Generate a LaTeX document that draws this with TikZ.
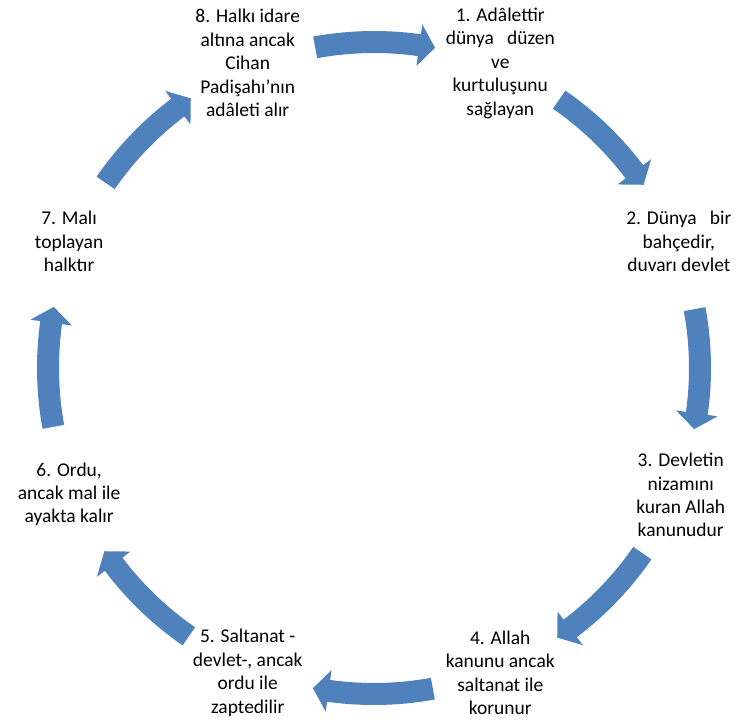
\documentclass[tikz,border=0pt]{standalone}
\usepackage{fontspec}
\setmainfont{Carlito}
\usepackage{tikz}
\usetikzlibrary{positioning}
\definecolor{arrowblue}{RGB}{79,129,189}
\newcommand{\CycleArrow}[1]{\fill[arrowblue] (#1+10.4:315) arc[start angle=#1+10.4, end angle=#1-8, radius=315]
  -- (#1-8:305) -- (#1-10.8:326) -- (#1-8:347) -- (#1-8:337)
  arc[start angle=#1-8, end angle=#1+10.4, radius=337] -- cycle;}

\begin{document}
\begin{tikzpicture}[x=0.75pt, y=0.75pt,
    step text/.style={align=center, inner sep=0pt, font=\fontsize{14.6}{17.6}\selectfont}]
    \useasboundingbox (-374,-354) rectangle (367,368);

    \node[step text] (s1) at (67.5:330) {1. Adâlettir\\dünya\ \ \ düzen\\ve\\kurtuluşunu\\sağlayan};
    \node[step text] (s2) at (22.5:330) {2. Dünya\ \ \ bir\\bahçedir,\\duvarı devlet};
    \node[step text] (s3) at (-22.5:332) {3. Devletin\\nizamını\\kuran Allah\\kanunudur};
    \node[step text] (s4) at (-67.5:330) {4. Allah\\kanunu ancak\\saltanat ile\\korunur};
    \node[step text] (s5) at (-112.5:330) {5. Saltanat -\\devlet-, ancak\\ordu ile\\zaptedilir};
    \node[step text] (s6) at (-157.5:330) {6. Ordu,\\ancak mal ile\\ayakta kalır};
    \node[step text] (s7) at (157.5:330) {7. Malı\\toplayan\\halktır};
    \node[step text] (s8) at (112.5:330) {8. Halkı idare\\altına ancak\\Cihan\\Padişahı’nın\\adâleti alır};

    \CycleArrow{90}
    \CycleArrow{45}
    \CycleArrow{0}
    \CycleArrow{-45}
    \CycleArrow{-90}
    \CycleArrow{-135}
    \CycleArrow{180}
    \CycleArrow{135}
\end{tikzpicture}
\end{document}
